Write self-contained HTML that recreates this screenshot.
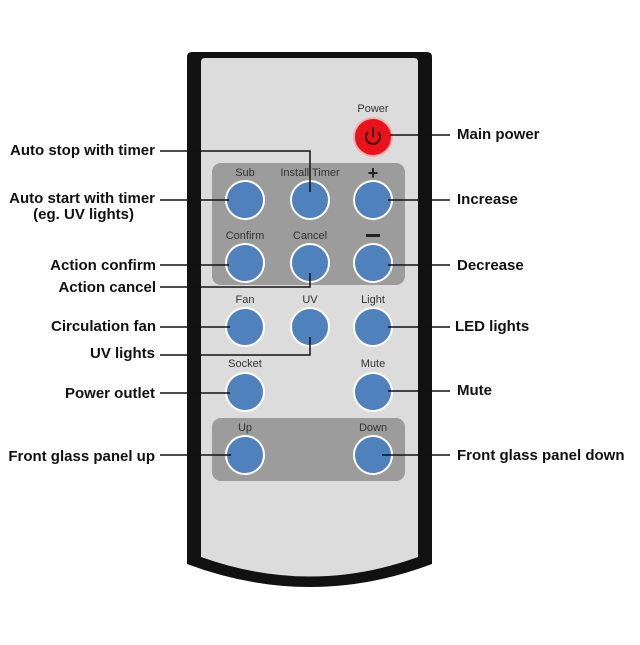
<!DOCTYPE html>
<html><head><style>
body{margin:0;background:#fff;}
svg text{font-family:"Liberation Sans",Arial,sans-serif;}
.l{font-size:15px;font-weight:bold;fill:#111;}
.b{font-size:11px;fill:#333;text-anchor:middle;}
</style></head><body>
<svg width="640" height="640" viewBox="0 0 640 640" xmlns="http://www.w3.org/2000/svg">
<path d="M187,57 Q187,52 192,52 L427,52 Q432,52 432,57 L432,564 Q310,610 187,564 Z" fill="#111"/>
<path d="M201,62 Q201,58 205,58 L414,58 Q418,58 418,62 L418,557 Q310,596 201,557 Z" fill="#dcdcdc"/>
<rect x="212" y="163" width="193" height="122" rx="9" fill="#9c9c9c"/>
<rect x="212" y="418" width="193" height="63" rx="9" fill="#9c9c9c"/>
<g fill="#4f81bd" stroke="#fff" stroke-width="2">
<circle cx="245" cy="200" r="19"/><circle cx="310" cy="200" r="19"/><circle cx="373" cy="200" r="19"/>
<circle cx="245" cy="263" r="19"/><circle cx="310" cy="263" r="19"/><circle cx="373" cy="263" r="19"/>
<circle cx="245" cy="327" r="19"/><circle cx="310" cy="327" r="19"/><circle cx="373" cy="327" r="19"/>
<circle cx="245" cy="392" r="19"/><circle cx="373" cy="392" r="19"/>
<circle cx="245" cy="455" r="19"/><circle cx="373" cy="455" r="19"/>
</g>
<circle cx="373" cy="137" r="19" fill="#e8141c" stroke="#f4b0b0" stroke-width="2"/>
<path d="M368,132 A7,7 0 1 0 378,132" fill="none" stroke="#400" stroke-width="2"/>
<line x1="373" y1="127" x2="373" y2="137" stroke="#400" stroke-width="2"/>
<text class="b" x="373" y="112">Power</text>
<text class="b" x="245" y="176">Sub</text>
<text class="b" x="310" y="176">Install Timer</text>
<text x="373" y="179" font-size="18" font-weight="bold" text-anchor="middle" fill="#222">+</text>
<text class="b" x="245" y="239">Confirm</text>
<text class="b" x="310" y="239">Cancel</text>
<rect x="366" y="234" width="14" height="3" fill="#222"/>
<text class="b" x="245" y="303">Fan</text>
<text class="b" x="310" y="303">UV</text>
<text class="b" x="373" y="303">Light</text>
<text class="b" x="245" y="367">Socket</text>
<text class="b" x="373" y="367">Mute</text>
<text class="b" x="245" y="431">Up</text>
<text class="b" x="373" y="431">Down</text>
<g stroke="#111" stroke-width="1.5" fill="none">
<polyline points="160,151 310,151 310,192"/>
<line x1="160" y1="200" x2="229" y2="200"/>
<line x1="160" y1="265" x2="229" y2="265"/>
<polyline points="160,287 310,287 310,273"/>
<line x1="160" y1="327" x2="230" y2="327"/>
<polyline points="160,355 310,355 310,337"/>
<line x1="160" y1="393" x2="230" y2="393"/>
<line x1="160" y1="455" x2="231" y2="455"/>
<line x1="390" y1="135" x2="450" y2="135"/>
<line x1="388" y1="200" x2="450" y2="200"/>
<line x1="388" y1="265" x2="450" y2="265"/>
<line x1="388" y1="327" x2="450" y2="327"/>
<line x1="388" y1="391" x2="450" y2="391"/>
<line x1="382" y1="455" x2="450" y2="455"/>
</g>
<text class="l" x="155" y="155" text-anchor="end">Auto stop with timer</text>
<text class="l" x="155" y="203" text-anchor="end">Auto start with timer</text>
<text class="l" x="134" y="219" text-anchor="end">(eg. UV lights)</text>
<text class="l" x="156" y="270" text-anchor="end">Action confirm</text>
<text class="l" x="156" y="292" text-anchor="end">Action cancel</text>
<text class="l" x="156" y="331" text-anchor="end">Circulation fan</text>
<text class="l" x="155" y="358" text-anchor="end">UV lights</text>
<text class="l" x="155" y="398" text-anchor="end">Power outlet</text>
<text class="l" x="155" y="461" text-anchor="end">Front glass panel up</text>
<text class="l" x="457" y="139">Main power</text>
<text class="l" x="457" y="204">Increase</text>
<text class="l" x="457" y="270">Decrease</text>
<text class="l" x="455" y="331">LED lights</text>
<text class="l" x="457" y="395">Mute</text>
<text class="l" x="457" y="460">Front glass panel down</text>
</svg>
</body></html>
